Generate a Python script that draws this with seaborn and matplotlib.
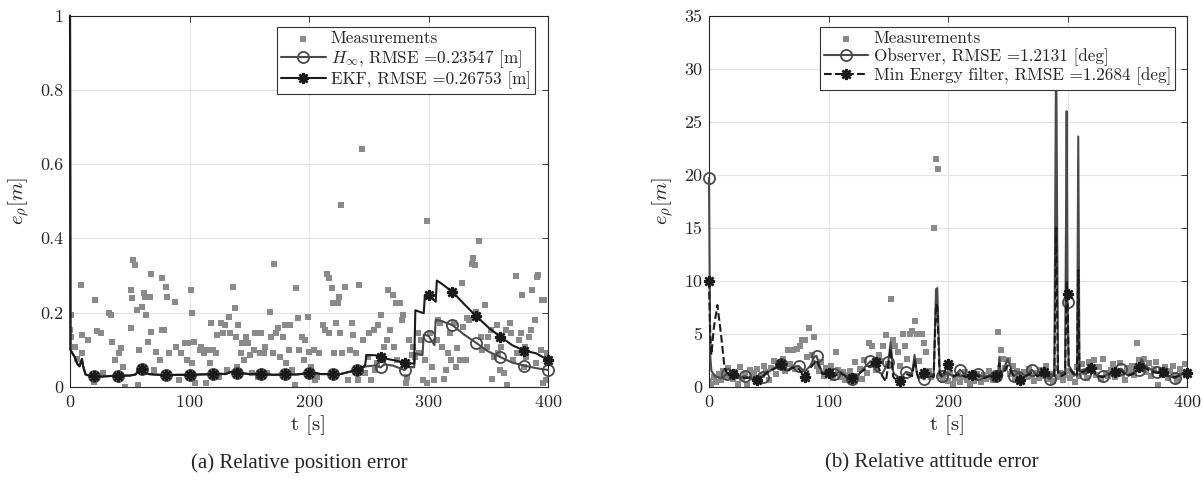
import numpy as np
import pandas as pd
import matplotlib.pyplot as plt
import seaborn as sns

# ---------------- (a) relative position error ----------------
meas_a_t = [0, 1, 1, 4, 6, 9, 10, 10, 15, 20,
            21, 23, 26, 28, 33, 34, 35, 38, 41, 43,
            44, 46, 51, 51, 52, 53, 54, 56, 57, 58,
            60, 62, 63, 64, 65, 67, 68, 68, 70, 72,
            75, 77, 77, 79, 80, 81, 83, 88, 89, 91,
            93, 96, 98, 99, 101, 102, 102, 104, 105, 109,
            110, 112, 114, 115, 117, 118, 120, 122, 123, 125,
            126, 128, 130, 131, 133, 134, 136, 138, 139, 140,
            141, 143, 144, 146, 147, 149, 151, 152, 154, 155,
            157, 159, 160, 162, 163, 165, 167, 168, 170, 171,
            172, 174, 176, 178, 180, 181, 183, 184, 186, 188,
            189, 191, 192, 194, 196, 197, 199, 200, 202, 204,
            205, 207, 208, 212, 213, 215, 217, 217, 219, 220,
            221, 223, 224, 225, 226, 227, 228, 230, 233, 234,
            236, 237, 239, 241, 242, 244, 245, 247, 249, 250,
            252, 254, 255, 257, 258, 260, 262, 263, 265, 266,
            268, 270, 271, 273, 274, 276, 278, 279, 281, 282,
            284, 286, 287, 289, 291, 292, 294, 295, 297, 299,
            299, 301, 303, 305, 307, 308, 310, 311, 313, 315,
            316, 318, 319, 321, 323, 324, 326, 328, 329, 331,
            332, 334, 336, 337, 339, 340, 342, 344, 345, 347,
            349, 350, 352, 353, 355, 357, 358, 360, 361, 363,
            365, 366, 368, 369, 371, 373, 374, 376, 377, 378,
            380, 381, 382, 384, 386, 387, 389, 390, 391, 392,
            394, 395, 396, 397, 398, 399]
meas_a = [.153, .193, .135, .108, .076, .274, .139, .09, .126, .013,
          .234, .151, .144, .036, .198, .193, .121, .072, .09, .103,
          .054, .0, .157, .26, .238, .341, .328, .207, .004, .099,
          .216, .252, .243, .193, .121, .243, .305, .148, .045, .094,
          .072, .153, .292, .153, .27, .243, .09, .229, .108, .018,
          .09, .117, .072, .117, .26, .198, .063, .121, .009, .099,
          .108, .09, .009, .099, .063, .171, .099, .09, .139, .027,
          .171, .144, .166, .045, .189, .144, .27, .211, .135, .054,
          .166, .09, .117, .072, .135, .117, .085, .036, .099, .144,
          .027, .09, .144, .09, .108, .036, .202, .135, .09, .332,
          .144, .157, .081, .135, .166, .063, .099, .166, .045, .004,
          .265, .184, .099, .135, .072, .126, .189, .094, .054, .099,
          .018, .027, .09, .166, .153, .305, .292, .144, .265, .225,
          .09, .171, .225, .243, .144, .49, .09, .27, .018, .099,
          .171, .139, .09, .018, .274, .64, .126, .036, .081, .144,
          .018, .153, .045, .063, .166, .193, .072, .108, .126, .26,
          .153, .247, .108, .225, .072, .225, .18, .193, .009, .027,
          .126, .085, .108, .081, .144, .09, .126, .018, .072, .009,
          .447, .144, .054, .018, .126, .18, .171, .108, .022, .045,
          .09, .144, .072, .171, .054, .103, .072, .279, .162, .072,
          .184, .18, .332, .346, .328, .202, .394, .135, .099, .22,
          .108, .135, .153, .022, .081, .166, .09, .045, .108, .036,
          .153, .004, .171, .144, .072, .298, .09, .126, .144, .247,
          .054, .108, .081, .135, .153, .26, .18, .063, .296, .301,
          .099, .234, .009, .234, .018, .09]

# both filters coincide until ~245 s
common_t = [0, 0.4, 2, 4, 6, 8, 10, 11, 13, 16, 20, 25, 30, 35, 40, 45, 50, 55,
            58, 60, 63, 66, 70, 80, 90, 100, 110, 120, 125, 130, 135, 140, 145,
            150, 160, 170, 180, 190, 200, 205, 210, 220, 225, 230, 240, 245]
common_v = [1.0, 0.1, 0.09, 0.08, 0.062, 0.055, 0.075, 0.055, 0.033, 0.03, 0.03,
            0.027, 0.028, 0.029, 0.03, 0.03, 0.03, 0.033, 0.048, 0.047, 0.037,
            0.034, 0.033, 0.031, 0.032, 0.032, 0.033, 0.034, 0.035, 0.034, 0.04,
            0.038, 0.036, 0.034, 0.035, 0.032, 0.033, 0.033, 0.037, 0.037, 0.034,
            0.034, 0.033, 0.037, 0.045, 0.052]
hinf_t = common_t + [248, 255, 260, 263, 270, 276, 280, 283, 288, 289, 295, 296,
                     300, 305, 306, 310, 320, 330, 340, 350, 360, 370, 380, 390, 400]
hinf_v = common_v + [0.055, 0.057, 0.052, 0.06, 0.057, 0.05, 0.045, 0.055, 0.052,
                     0.09, 0.085, 0.14, 0.137, 0.112, 0.18, 0.178, 0.166, 0.14,
                     0.118, 0.095, 0.08, 0.065, 0.057, 0.05, 0.045]
ekf_t = common_t + [247, 248, 255, 260, 265, 270, 280, 288, 289, 296, 297, 300,
                    306, 307, 310, 320, 330, 340, 350, 360, 370, 380, 390, 400]
ekf_v = common_v + [0.058, 0.085, 0.085, 0.081, 0.075, 0.072, 0.065, 0.062, 0.206,
                    0.198, 0.247, 0.247, 0.229, 0.286, 0.28, 0.256, 0.222, 0.19,
                    0.16, 0.135, 0.112, 0.097, 0.09, 0.072]

# ---------------- (b) relative attitude error ----------------
meas_b_t = np.arange(0, 400, 2)
meas_b = [0.5, 0.3, 0.9, 0.4, 1.2, 0.6, 1.5, 0.9, 1.8, 1.1,
          0.7, 1.4, 0.3, 1.9, 0.8, 1.2, 0.2, 1.6, 0.9, 1.3,
          1.7, 0.8, 1.1, 2.0, 1.4, 0.6, 1.8, 2.4, 1.2, 2.2,
          1.9, 2.6, 1.5, 3.5, 2.1, 3.5, 1.7, 3.6, 3.8, 4.4,
          4.4, 2.8, 5.5, 3.0, 4.7, 2.0, 1.5, 2.3, 1.0, 1.8,
          1.2, 2.0, 0.8, 3.3, 1.6, 0.9, 1.4, 0.6, 1.1, 1.5,
          0.4, 2.3, 1.0, 1.7, 0.7, 2.5, 1.3, 4.1, 3.8, 2.2,
          1.6, 3.0, 2.4, 3.8, 4.9, 2.1, 8.3, 4.4, 3.8, 3.3,
          2.0, 5.0, 3.8, 2.6, 5.0, 5.3, 6.2, 5.0, 2.4, 5.0,
          4.1, 3.3, 1.5, 0.9, 15.0, 21.5, 20.5, 1.0, 0.6, 1.2,
          0.5, 1.3, 0.3, 0.8, 1.1, 0.4, 0.9, 1.4, 0.6, 0.3,
          1.0, 0.5, 1.2, 0.8, 0.4, 1.1, 0.7, 1.5, 0.9, 0.6,
          1.3, 5.2, 3.5, 2.6, 1.8, 2.5, 1.2, 2.0, 0.8, 1.5,
          1.1, 0.6, 1.4, 0.9, 1.7, 1.0, 0.5, 1.3, 0.8, 1.6,
          1.0, 2.0, 0.7, 1.2, 0.5, 1.8, 0.9, 1.3, 0.6, 1.1,
          1.5, 0.8, 1.2, 0.4, 1.9, 1.0, 2.1, 1.4, 0.8, 2.3,
          1.7, 2.5, 1.1, 1.9, 0.7, 2.6, 1.3, 1.0, 1.6, 2.1,
          0.9, 1.4, 2.2, 1.2, 0.6, 1.8, 1.5, 2.0, 1.1, 4.1,
          2.5, 1.9, 2.6, 1.4, 2.2, 1.0, 1.7, 2.3, 0.2, 1.6,
          1.2, 1.9, 0.8, 1.5, 2.0, 1.1, 0.6, 1.7, 1.3, 2.1]

obs_t = [0, 1, 2, 5, 10, 15, 20, 25, 30, 35, 40, 45, 50, 55, 60, 65, 70, 75, 80,
         85, 88, 90, 93, 95, 100, 105, 110, 115, 120, 125, 130, 135, 140, 145,
         150, 152, 154, 155, 160, 165, 170, 172, 174, 175, 180, 185, 188, 190,
         191, 193, 195, 200, 205, 210, 215, 220, 225, 230, 235, 240, 242, 243,
         244, 245, 250, 255, 260, 265, 270, 275, 280, 285, 289, 290.5, 292, 295,
         298, 299.3, 300, 301, 305, 308, 309, 310, 315, 320, 325, 330, 335, 340,
         345, 350, 355, 360, 362, 365, 370, 375, 380, 385, 390, 395, 400]
obs_v = [19.7, 3.0, 1.5, 1.0, 0.8, 1.2, 0.9, 0.8, 1.0, 0.7, 0.9, 0.95, 1.4, 1.8,
         2.1, 1.5, 1.9, 1.95, 1.4, 2.0, 2.8, 2.9, 1.8, 1.3, 1.6, 1.2, 1.4, 1.0,
         0.7, 1.1, 1.8, 2.4, 1.5, 1.2, 2.3, 4.2, 1.5, 1.2, 0.8, 1.4, 1.2, 3.0,
         1.2, 1.0, 0.7, 1.3, 1.0, 9.2, 9.3, 1.5, 1.0, 1.3, 0.9, 1.6, 1.1, 1.0,
         1.2, 0.9, 1.1, 1.0, 1.2, 2.8, 1.3, 1.2, 2.6, 1.0, 1.4, 1.0, 1.6, 1.0,
         1.3, 0.7, 1.2, 33.0, 1.5, 1.2, 1.5, 26.0, 8.0, 2.0, 1.3, 1.0, 23.6, 1.5,
         1.2, 1.5, 1.0, 1.0, 1.2, 1.5, 1.7, 1.1, 1.3, 1.6, 2.6, 2.0, 1.6, 1.4,
         1.3, 1.0, 0.8, 1.2, 1.3]
me_t = [0, 1, 2, 4, 7, 10, 13, 15, 20, 25, 30, 35, 40, 45, 50, 55, 60, 65, 70,
        75, 80, 85, 90, 95, 100, 105, 110, 115, 120, 125, 130, 135, 140, 145,
        148, 150, 152, 154, 155, 160, 165, 170, 172, 175, 180, 185, 188, 190,
        191, 193, 195, 200, 205, 210, 215, 220, 225, 230, 235, 240, 243, 245,
        250, 255, 260, 265, 270, 275, 280, 285, 289, 290.5, 292, 295, 298,
        299.3, 300, 301, 305, 308, 309, 310, 315, 320, 325, 330, 335, 340, 345,
        350, 355, 360, 362, 365, 370, 375, 380, 385, 390, 395, 400]
me_v = [10.0, 5.0, 3.0, 5.5, 7.7, 5.0, 1.8, 1.3, 1.2, 1.0, 0.8, 0.9, 0.6, 1.0,
        1.5, 1.7, 2.1, 1.4, 1.8, 1.7, 0.9, 1.8, 2.5, 1.2, 1.3, 1.0, 1.3, 0.9,
        0.8, 1.2, 1.6, 2.0, 2.3, 1.0, 0.5, 2.0, 3.6, 1.0, 0.8, 0.5, 1.2, 1.0,
        2.5, 0.8, 1.3, 1.0, 0.9, 7.8, 7.5, 1.2, 0.9, 2.1, 1.0, 1.2, 0.9, 1.1,
        1.0, 0.8, 1.0, 1.0, 2.2, 1.0, 2.0, 1.0, 0.6, 1.0, 1.3, 1.0, 1.4, 1.0,
        1.0, 15.0, 1.2, 1.0, 1.2, 10.0, 8.7, 1.8, 1.2, 1.0, 11.0, 1.3, 1.5, 1.8,
        1.0, 0.9, 1.2, 1.4, 1.5, 1.0, 1.2, 1.9, 2.2, 1.8, 1.4, 1.3, 1.4, 1.0,
        0.9, 1.1, 1.3]

sns.set_theme(style='whitegrid')
plt.rcParams['font.family'] = ['cmr10', 'DejaVu Serif']
plt.rcParams['mathtext.fontset'] = 'cm'
plt.rcParams['axes.unicode_minus'] = False
plt.rcParams['axes.formatter.use_mathtext'] = True

fig = plt.figure(figsize=(12.03, 4.84), dpi=100)
ax1 = fig.add_axes([70 / 1203, 1 - 386.7 / 484, 478 / 1203, 371 / 484])
ax2 = fig.add_axes([709 / 1203, 1 - 386.7 / 484, 478 / 1203, 371 / 484])

gray = '#8a8a8a'
dark = '#4a4a4a'
black = '#1a1a1a'
star = (8, 2, 0)


def every(ts, step, skip_zero=False):
    return [i for i, t in enumerate(ts) if t % step == 0 and not (skip_zero and t == 0)]


# (a)
sns.scatterplot(x=meas_a_t, y=meas_a, ax=ax1, marker='s', s=16, color=gray,
                linewidth=0, label='Measurements', zorder=2)
sns.lineplot(x=hinf_t, y=hinf_v, ax=ax1, estimator=None, sort=False, color=dark,
             lw=1.5, marker='o', markevery=every(hinf_t, 20, True), ms=8,
             mfc='none', mec=dark, mew=1.3, label=r'$H_\infty$, RMSE =0.23547 [m]',
             zorder=3, clip_on=False)
sns.lineplot(x=ekf_t, y=ekf_v, ax=ax1, estimator=None, sort=False, color=black,
             lw=1.5, marker=star, markevery=every(ekf_t, 20, True), ms=8,
             mec=black, mew=1.8, label='EKF, RMSE =0.26753 [m]', zorder=4,
             clip_on=False)

# (b)
sns.scatterplot(x=meas_b_t, y=meas_b, ax=ax2, marker='s', s=16, color=gray,
                linewidth=0, label='Measurements', zorder=2)
sns.lineplot(x=obs_t, y=obs_v, ax=ax2, estimator=None, sort=False, color=dark,
             lw=1.5, marker='o', markevery=every(obs_t, 15), ms=8, mfc='none',
             mec=dark, mew=1.3, label='Observer, RMSE =1.2131 [deg]', zorder=3,
             clip_on=False)
sns.lineplot(x=me_t, y=me_v, ax=ax2, estimator=None, sort=False, color=black,
             lw=1.5, ls='--', dashes=(3.5, 2.5), marker=star,
             markevery=every(me_t, 20), ms=8, mec=black, mew=1.8,
             label='Min Energy filter, RMSE =1.2684 [deg]', zorder=4,
             clip_on=False)

for ax, ymax, ystep, anchor in [(ax1, 1, 0.2, (0.973, 0.970)),
                                (ax2, 35, 5, (0.975, 0.970))]:
    ax.set_xlim(0, 400)
    ax.set_ylim(0, ymax)
    ax.set_xticks([0, 100, 200, 300, 400])
    ax.set_yticks(np.arange(0, ymax + ystep / 2, ystep))
    ax.yaxis.set_major_formatter(plt.FuncFormatter(lambda v, p: f'{v:g}'))
    ax.set_facecolor('white')
    ax.grid(True, color='#e4e4e4', lw=0.8)
    for sp in ax.spines.values():
        sp.set_visible(True)
        sp.set_edgecolor('#262626')
        sp.set_linewidth(0.8)
    ax.tick_params(direction='in', length=4, width=0.6, top=True, right=True,
                   labelsize=13, colors='#262626', pad=5)
    ax.set_xlabel('t [s]', fontsize=15, color='#262626', labelpad=4)
    ax.set_ylabel(r'$e_\rho[m]$', fontsize=15, color='#262626', labelpad=6)
    h, l = ax.get_legend_handles_labels()
    leg = ax.legend(h, l, loc='upper right', bbox_to_anchor=anchor,
                    borderaxespad=0, fancybox=False, framealpha=1,
                    edgecolor='#333333', fontsize=12.3, handlelength=2.6,
                    handletextpad=0.3, labelspacing=0.1, borderpad=0.25)
    leg.get_frame().set_linewidth(0.8)
    leg.set_zorder(10)

fig.text(299 / 1203, 1 - 463 / 484, '(a) Relative position error', ha='center',
         va='center', fontsize=15, family='Liberation Serif')
fig.text(932 / 1203, 1 - 463 / 484, '(b) Relative attitude error', ha='center',
         va='center', fontsize=15, family='Liberation Serif')

fig.savefig('out.png', dpi=100)
